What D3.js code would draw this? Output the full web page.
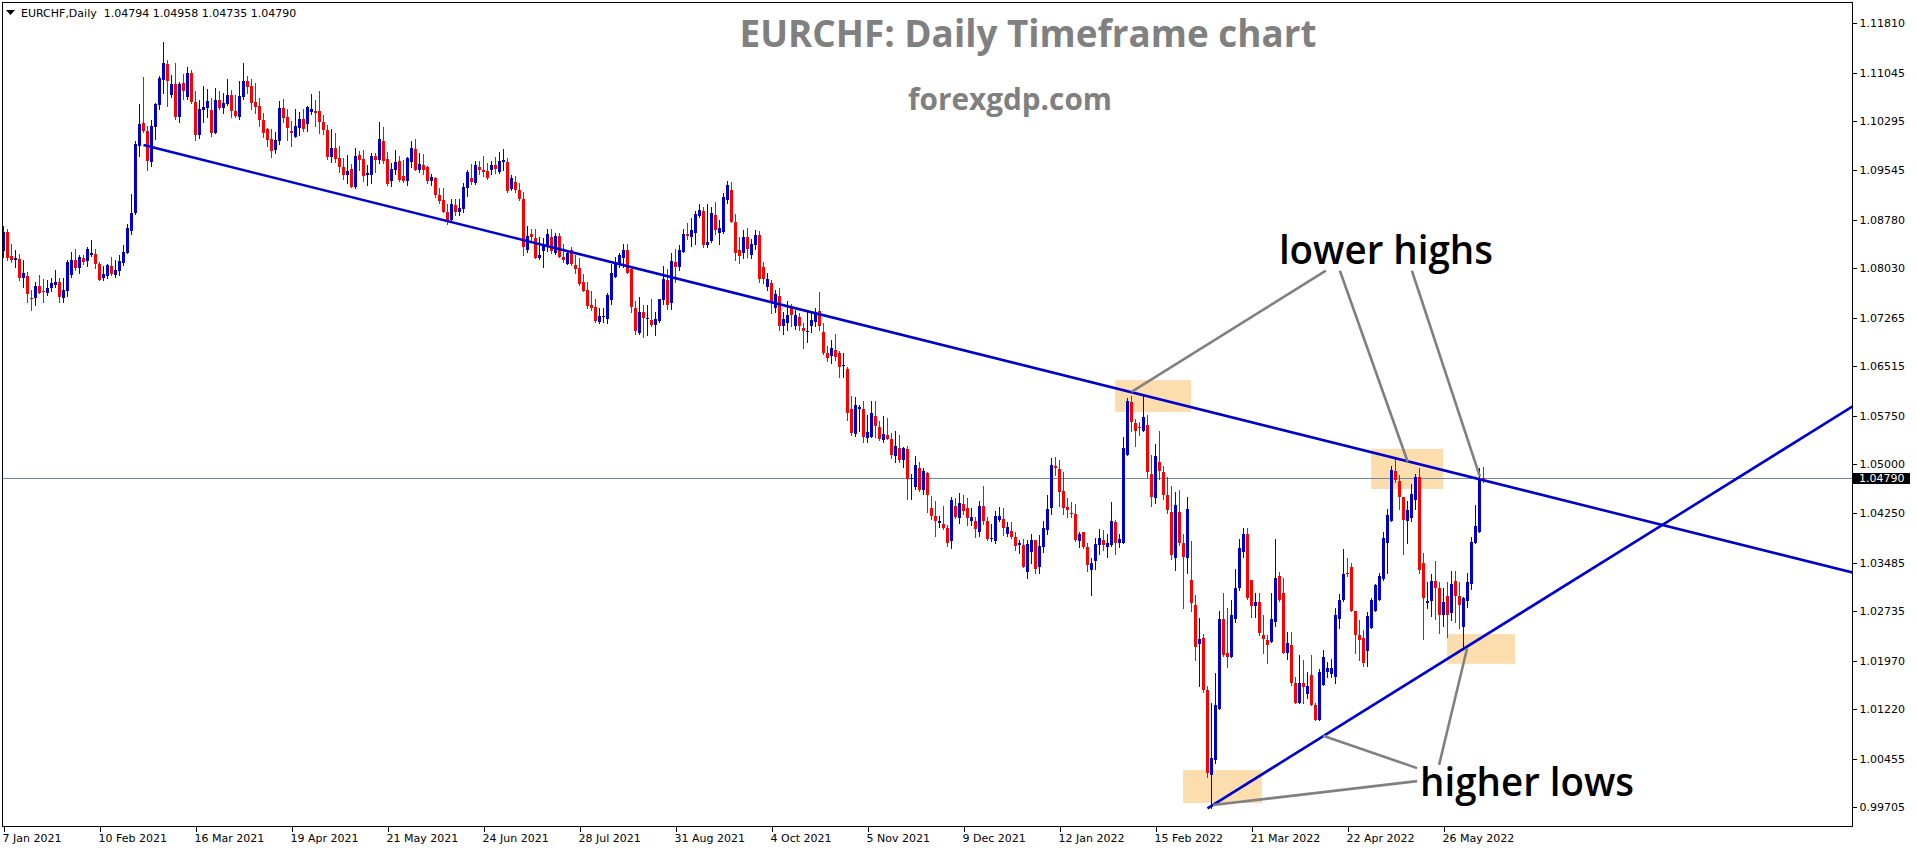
<!DOCTYPE html>
<html><head><meta charset="utf-8">
<script src="https://cdn.jsdelivr.net/npm/d3@7"></script>
<style>html,body{margin:0;padding:0;background:#fff;overflow:hidden}</style>
</head><body>
<svg id="c" width="1916" height="850"></svg>
<script>
// ---------------- DATA ----------------
const symbol = "EURCHF", timeframe = "Daily";
const open = [
1.0830,1.0859,1.0822,1.0816,1.0817,1.0787,1.0791,1.0757,1.0757,1.0775,
1.0768,1.0765,1.0772,1.0777,1.0782,1.0757,1.0768,1.0792,1.0816,1.0803,
1.0819,1.0814,1.0823,1.0825,1.0810,1.0788,1.0791,1.0807,1.0793,1.0798,
1.0811,1.0827,1.0861,1.0888,1.0992,1.1027,1.1015,1.0967,1.1021,1.1055,
1.1094,1.1118,1.1070,1.1087,1.1036,1.1089,1.1068,1.1104,1.1059,1.1009,
1.1047,1.1050,1.1047,1.1011,1.1063,1.1050,1.1056,1.1070,1.1046,1.1037,
1.1068,1.1092,1.1084,1.1059,1.1053,1.1032,1.1018,1.1002,1.0985,1.1000,
1.1050,1.1036,1.1015,1.1006,1.1020,1.1034,1.1026,1.1044,1.1046,1.1045,
1.1029,1.1016,1.0974,1.0988,1.0973,1.0959,1.0947,1.0956,1.0928,1.0977,
1.0972,1.0947,1.0947,1.0976,1.0970,1.0999,1.0972,1.0938,1.0955,1.0968,
1.0945,1.0937,1.0967,1.0987,1.0954,1.0962,1.0959,1.0938,1.0942,1.0916,
1.0908,1.0890,1.0877,1.0900,1.0890,1.0894,1.0927,1.0942,1.0934,1.0959,
1.0954,1.0953,1.0955,1.0962,1.0951,1.0967,1.0967,1.0925,1.0936,1.0923,
1.0910,1.0831,1.0856,1.0850,1.0818,1.0829,1.0839,1.0851,1.0827,1.0853,
1.0820,1.0810,1.0831,1.0808,1.0803,1.0781,1.0769,1.0746,1.0743,1.0720,
1.0728,1.0725,1.0754,1.0790,1.0808,1.0819,1.0831,1.0802,1.0741,1.0703,
1.0735,1.0725,1.0723,1.0715,1.0721,1.0754,1.0784,1.0749,1.0812,1.0805,
1.0828,1.0855,1.0851,1.0858,1.0884,1.0891,1.0839,1.0845,1.0885,1.0857,
1.0859,1.0908,1.0924,1.0875,1.0831,1.0827,1.0851,1.0823,1.0838,1.0854,
1.0805,1.0774,1.0780,1.0742,1.0760,1.0713,1.0719,1.0742,1.0714,1.0727,
1.0710,1.0704,1.0714,1.0720,1.0737,1.0705,1.0672,1.0667,1.0677,1.0672,
1.0652,1.0648,1.0586,1.0547,1.0586,1.0586,1.0540,1.0543,1.0574,1.0557,
1.0538,1.0545,1.0539,1.0513,1.0526,1.0507,1.0524,1.0477,1.0465,1.0495,
1.0461,1.0487,1.0433,1.0420,1.0409,1.0408,1.0401,1.0381,1.0436,1.0417,
1.0439,1.0433,1.0412,1.0413,1.0396,1.0436,1.0412,1.0386,1.0382,1.0414,
1.0416,1.0393,1.0397,1.0388,1.0375,1.0375,1.0334,1.0364,1.0383,1.0342,
1.0373,1.0399,1.0433,1.0497,1.0493,1.0459,1.0434,1.0425,1.0423,1.0382,
1.0395,1.0372,1.0337,1.0351,1.0375,1.0384,1.0372,1.0375,1.0411,1.0379,
1.0379,1.0514,1.0596,1.0564,1.0558,1.0552,1.0561,1.0485,1.0448,1.0504,
1.0488,1.0453,1.0426,1.0356,1.0426,1.0379,1.0356,1.0322,1.0283,1.0223,
1.0232,1.0152,1.0020,1.0043,1.0122,1.0262,1.0208,1.0203,1.0262,1.0309,
1.0365,1.0393,1.0322,1.0282,1.0287,1.0236,1.0229,1.0225,1.0256,1.0328,
1.0301,1.0209,1.0221,1.0162,1.0132,1.0162,1.0146,1.0175,1.0129,1.0105,
1.0160,1.0179,1.0177,1.0172,1.0262,1.0291,1.0332,1.0341,1.0273,1.0236,
1.0232,1.0212,1.0248,1.0274,1.0291,1.0323,1.0379,1.0413,1.0490,1.0475,
1.0449,1.0412,1.0417,1.0445,1.0480,1.0348,1.0286,1.0289,1.0320,1.0309,
1.0267,1.0297,1.0271,1.0320,1.0297,1.0249,1.0289,1.0316,1.0379,1.0395,
1.04794];
const high = [
1.0868,1.0863,1.0841,1.0831,1.0825,1.0816,1.0797,1.0770,1.0782,1.0792,
1.0786,1.0785,1.0787,1.0800,1.0787,1.0787,1.0816,1.0828,1.0833,1.0823,
1.0823,1.0835,1.0846,1.0833,1.0812,1.0807,1.0810,1.0820,1.0816,1.0824,
1.0839,1.0871,1.0917,1.0999,1.1056,1.1098,1.1022,1.1032,1.1058,1.1100,
1.1152,1.1124,1.1101,1.1120,1.1090,1.1103,1.1114,1.1109,1.1077,1.1062,
1.1084,1.1079,1.1065,1.1081,1.1076,1.1073,1.1095,1.1078,1.1070,1.1092,
1.1119,1.1099,1.1095,1.1089,1.1066,1.1043,1.1020,1.1018,1.1013,1.1061,
1.1064,1.1049,1.1030,1.1049,1.1044,1.1048,1.1053,1.1072,1.1063,1.1076,
1.1039,1.1024,1.1018,1.1012,1.0991,1.0973,1.0978,1.0964,1.0988,1.0984,
1.0986,1.0962,1.0980,1.0980,1.1029,1.1021,1.0982,1.0965,1.0985,1.0976,
1.0970,1.0974,1.0999,1.1002,1.0981,1.0979,1.0961,1.0949,1.0943,1.0927,
1.0927,1.0902,1.0910,1.0910,1.0910,1.0934,1.0955,1.0964,1.0969,1.0969,
1.0976,1.0965,1.0968,1.0974,1.0982,1.0987,1.0973,1.0947,1.0945,1.0934,
1.0920,1.0868,1.0863,1.0864,1.0851,1.0850,1.0864,1.0863,1.0858,1.0858,
1.0841,1.0831,1.0835,1.0823,1.0818,1.0794,1.0782,1.0768,1.0755,1.0742,
1.0742,1.0764,1.0810,1.0820,1.0827,1.0840,1.0840,1.0805,1.0752,1.0758,
1.0746,1.0746,1.0756,1.0735,1.0756,1.0806,1.0801,1.0827,1.0833,1.0838,
1.0864,1.0872,1.0880,1.0891,1.0902,1.0898,1.0902,1.0898,1.0905,1.0878,
1.0919,1.0937,1.0936,1.0887,1.0851,1.0862,1.0865,1.0848,1.0862,1.0860,
1.0812,1.0795,1.0785,1.0769,1.0772,1.0735,1.0752,1.0748,1.0739,1.0733,
1.0718,1.0738,1.0733,1.0742,1.0766,1.0718,1.0683,1.0692,1.0702,1.0675,
1.0672,1.0650,1.0605,1.0604,1.0592,1.0598,1.0576,1.0598,1.0598,1.0567,
1.0575,1.0572,1.0549,1.0552,1.0545,1.0527,1.0529,1.0485,1.0513,1.0503,
1.0495,1.0489,1.0451,1.0444,1.0420,1.0436,1.0407,1.0450,1.0448,1.0456,
1.0453,1.0448,1.0432,1.0419,1.0443,1.0467,1.0419,1.0408,1.0428,1.0434,
1.0432,1.0411,1.0411,1.0396,1.0383,1.0385,1.0383,1.0392,1.0383,1.0391,
1.0413,1.0453,1.0510,1.0512,1.0507,1.0489,1.0448,1.0442,1.0439,1.0395,
1.0395,1.0379,1.0356,1.0386,1.0400,1.0399,1.0393,1.0442,1.0414,1.0393,
1.0542,1.0602,1.0606,1.0570,1.0566,1.0608,1.0576,1.0514,1.0531,1.0551,
1.0497,1.0481,1.0467,1.0458,1.0460,1.0393,1.0449,1.0381,1.0298,1.0263,
1.0238,1.0158,1.0131,1.0178,1.0273,1.0302,1.0279,1.0290,1.0339,1.0385,
1.0401,1.0401,1.0322,1.0301,1.0301,1.0268,1.0237,1.0302,1.0385,1.0334,
1.0325,1.0241,1.0241,1.0172,1.0205,1.0198,1.0179,1.0206,1.0131,1.0184,
1.0213,1.0195,1.0200,1.0278,1.0300,1.0370,1.0355,1.0348,1.0274,1.0259,
1.0244,1.0272,1.0294,1.0316,1.0333,1.0395,1.0431,1.0498,1.0509,1.0484,
1.0450,1.0443,1.0470,1.0485,1.0495,1.0363,1.0318,1.0330,1.0351,1.0318,
1.0309,1.0318,1.0336,1.0336,1.0318,1.0296,1.0333,1.0388,1.0437,1.0494,
1.04958];
const low = [
1.0820,1.0816,1.0813,1.0805,1.0784,1.0774,1.0750,1.0738,1.0746,1.0764,
1.0751,1.0761,1.0768,1.0774,1.0750,1.0751,1.0760,1.0790,1.0800,1.0796,
1.0810,1.0807,1.0822,1.0803,1.0785,1.0784,1.0787,1.0792,1.0790,1.0792,
1.0808,1.0827,1.0855,1.0887,1.0976,1.1013,1.0955,1.0960,1.1003,1.1049,
1.1074,1.1053,1.1068,1.1034,1.1029,1.1064,1.1064,1.1058,1.1001,1.1004,
1.1029,1.1037,1.1007,1.1011,1.1048,1.1042,1.1055,1.1037,1.1037,1.1033,
1.1064,1.1073,1.1049,1.1043,1.1023,1.1006,1.0992,1.0975,1.0981,1.0995,
1.1029,1.1001,1.0992,1.1006,1.1008,1.1014,1.1015,1.1041,1.1023,1.1011,
1.1010,1.0972,1.0967,1.0967,1.0951,1.0941,1.0935,1.0928,1.0926,1.0955,
1.0938,1.0932,1.0935,1.0952,1.0966,1.0965,1.0931,1.0930,1.0948,1.0937,
1.0936,1.0932,1.0959,1.0955,1.0951,1.0948,1.0934,1.0932,1.0913,1.0903,
1.0890,1.0871,1.0875,1.0885,1.0885,1.0889,1.0914,1.0933,1.0933,1.0949,
1.0945,1.0941,1.0948,1.0950,1.0950,1.0954,1.0921,1.0923,1.0921,1.0908,
1.0823,1.0828,1.0846,1.0818,1.0817,1.0804,1.0829,1.0826,1.0825,1.0820,
1.0813,1.0809,1.0808,1.0795,1.0777,1.0767,1.0742,1.0739,1.0720,1.0719,
1.0720,1.0718,1.0748,1.0790,1.0804,1.0805,1.0795,1.0735,1.0701,1.0701,
1.0696,1.0699,1.0714,1.0700,1.0720,1.0748,1.0740,1.0740,1.0782,1.0800,
1.0828,1.0848,1.0837,1.0841,1.0882,1.0835,1.0836,1.0844,1.0856,1.0840,
1.0858,1.0903,1.0874,1.0815,1.0811,1.0819,1.0820,1.0818,1.0832,1.0782,
1.0780,1.0770,1.0733,1.0736,1.0708,1.0701,1.0708,1.0713,1.0709,1.0708,
1.0679,1.0689,1.0704,1.0713,1.0708,1.0670,1.0659,1.0657,1.0661,1.0635,
1.0635,1.0569,1.0545,1.0544,1.0552,1.0535,1.0534,1.0542,1.0542,1.0537,
1.0535,1.0539,1.0510,1.0504,1.0503,1.0496,1.0447,1.0447,1.0462,1.0459,
1.0454,1.0427,1.0415,1.0389,1.0404,1.0400,1.0374,1.0371,1.0417,1.0409,
1.0423,1.0407,1.0406,1.0388,1.0389,1.0408,1.0383,1.0381,1.0378,1.0412,
1.0391,1.0390,1.0387,1.0368,1.0363,1.0341,1.0325,1.0347,1.0333,1.0333,
1.0365,1.0392,1.0423,1.0484,1.0436,1.0423,1.0418,1.0418,1.0381,1.0373,
1.0371,1.0335,1.0298,1.0338,1.0362,1.0368,1.0357,1.0374,1.0362,1.0373,
1.0379,1.0514,1.0552,1.0529,1.0546,1.0551,1.0481,1.0436,1.0441,1.0478,
1.0446,1.0425,1.0354,1.0337,1.0375,1.0279,1.0332,1.0274,1.0198,1.0158,
1.0149,1.0018,0.9969,1.0039,1.0122,1.0204,1.0187,1.0203,1.0257,1.0306,
1.0357,1.0292,1.0264,1.0264,1.0237,1.0208,1.0194,1.0225,1.0251,1.0289,
1.0209,1.0200,1.0159,1.0131,1.0132,1.0131,1.0139,1.0128,1.0105,1.0105,
1.0160,1.0172,1.0172,1.0163,1.0247,1.0289,1.0328,1.0274,1.0208,1.0198,
1.0188,1.0188,1.0248,1.0274,1.0291,1.0322,1.0332,1.0413,1.0473,1.0431,
1.0362,1.0379,1.0412,1.0431,1.0333,1.0230,1.0279,1.0266,1.0261,1.0240,
1.0251,1.0233,1.0260,1.0256,1.0248,1.0216,1.0280,1.0307,1.0378,1.0395,
1.04735];
const close = [
1.0859,1.0819,1.0816,1.0818,1.0787,1.0795,1.0763,1.0755,1.0775,1.0765,
1.0766,1.0773,1.0780,1.0782,1.0759,1.0769,1.0812,1.0816,1.0803,1.0820,
1.0812,1.0833,1.0827,1.0810,1.0785,1.0794,1.0808,1.0794,1.0800,1.0814,
1.0828,1.0865,1.0888,1.0995,1.1026,1.1014,1.0969,1.1022,1.1056,1.1097,
1.1120,1.1092,1.1087,1.1036,1.1088,1.1077,1.1104,1.1060,1.1009,1.1049,
1.1052,1.1061,1.1012,1.1063,1.1050,1.1058,1.1070,1.1045,1.1038,1.1069,
1.1092,1.1083,1.1058,1.1052,1.1032,1.1011,1.1001,1.0984,1.1001,1.1050,
1.1035,1.1019,1.1011,1.1022,1.1034,1.1018,1.1052,1.1049,1.1043,1.1028,
1.1016,1.0975,1.0988,1.0972,1.0959,1.0947,1.0953,1.0929,1.0976,1.0970,
1.0946,1.0950,1.0976,1.0970,1.1002,1.0969,1.0933,1.0956,1.0967,1.0939,
1.0938,1.0973,1.0988,1.0955,1.0964,1.0955,1.0938,1.0943,1.0916,1.0907,
1.0890,1.0876,1.0902,1.0890,1.0896,1.0928,1.0951,1.0936,1.0963,1.0954,
1.0951,1.0942,1.0963,1.0956,1.0968,1.0970,1.0922,1.0942,1.0924,1.0910,
1.0836,1.0852,1.0851,1.0818,1.0823,1.0840,1.0855,1.0830,1.0852,1.0820,
1.0816,1.0826,1.0810,1.0802,1.0778,1.0768,1.0745,1.0742,1.0721,1.0729,
1.0729,1.0762,1.0795,1.0812,1.0823,1.0831,1.0796,1.0743,1.0706,1.0736,
1.0726,1.0726,1.0715,1.0725,1.0755,1.0786,1.0746,1.0814,1.0805,1.0831,
1.0856,1.0853,1.0862,1.0887,1.0893,1.0839,1.0843,1.0888,1.0862,1.0865,
1.0913,1.0932,1.0875,1.0827,1.0821,1.0851,1.0833,1.0840,1.0854,1.0786,
1.0786,1.0786,1.0749,1.0763,1.0714,1.0724,1.0731,1.0731,1.0731,1.0713,
1.0706,1.0706,1.0723,1.0736,1.0714,1.0672,1.0665,1.0679,1.0666,1.0650,
1.0653,1.0580,1.0549,1.0592,1.0589,1.0543,1.0550,1.0579,1.0559,1.0539,
1.0547,1.0539,1.0515,1.0528,1.0507,1.0526,1.0478,1.0479,1.0499,1.0460,
1.0490,1.0453,1.0420,1.0413,1.0412,1.0401,1.0379,1.0445,1.0418,1.0441,
1.0428,1.0417,1.0419,1.0400,1.0436,1.0413,1.0385,1.0387,1.0420,1.0420,
1.0401,1.0403,1.0388,1.0374,1.0378,1.0342,1.0377,1.0383,1.0339,1.0374,
1.0402,1.0431,1.0499,1.0495,1.0458,1.0433,1.0430,1.0424,1.0383,1.0393,
1.0372,1.0344,1.0348,1.0377,1.0386,1.0375,1.0378,1.0413,1.0378,1.0385,
1.0525,1.0598,1.0566,1.0552,1.0557,1.0573,1.0489,1.0450,1.0513,1.0490,
1.0453,1.0429,1.0360,1.0437,1.0379,1.0357,1.0431,1.0286,1.0218,1.0230,
1.0152,1.0023,1.0047,1.0128,1.0262,1.0205,1.0203,1.0267,1.0309,1.0371,
1.0393,1.0293,1.0282,1.0287,1.0239,1.0231,1.0221,1.0262,1.0324,1.0291,
1.0209,1.0224,1.0162,1.0132,1.0162,1.0157,1.0158,1.0129,1.0105,1.0180,
1.0202,1.0185,1.0185,1.0268,1.0291,1.0330,1.0330,1.0274,1.0236,1.0229,
1.0193,1.0266,1.0291,1.0314,1.0328,1.0386,1.0422,1.0491,1.0476,1.0450,
1.0414,1.0429,1.0454,1.0480,1.0337,1.0294,1.0289,1.0320,1.0309,1.0267,
1.0287,1.0267,1.0315,1.0297,1.0283,1.0293,1.0318,1.0380,1.0405,1.0478,
1.04790];

// x-axis tick labels (one every 24 bars) and price-axis tick values
const dateTickLabels = ["7 Jan 2021","10 Feb 2021","16 Mar 2021","19 Apr 2021","21 May 2021","24 Jun 2021",
  "28 Jul 2021","31 Aug 2021","4 Oct 2021","5 Nov 2021","9 Dec 2021","12 Jan 2022","15 Feb 2022",
  "21 Mar 2022","22 Apr 2022","26 May 2022"];
const dateTickStep = 24;
const priceTicks = [1.11810,1.11045,1.10295,1.09545,1.08780,1.08030,1.07265,1.06515,1.05750,
  1.05000,1.04250,1.03485,1.02735,1.01970,1.01220,1.00455,0.99705];

// annotations, in (bar index, price) coordinates
const trendDown = [{i:35, p:1.0993}, {i:369, p:1.0477}];
const trendUp   = [{i:301, p:0.9969}, {i:360, p:1.0196}];
const zones = [
  {i0:277.9, i1:296.9, p0:1.0630, p1:1.0581},
  {i0:341.9, i1:359.9, p0:1.0524, p1:1.0462},
  {i0:360.9, i1:377.9, p0:1.0238, p1:1.0192},
  {i0:294.9, i1:314.6, p0:1.0028, p1:0.9977}
];
const pointers = [
  [{i:330.6,p:1.0799},{i:282.0,p:1.0612}],
  [{i:334.1,p:1.0799},{i:351.05,p:1.0504}],
  [{i:352.1,p:1.0799},{i:369.1,p:1.0481}],
  [{i:353.4,p:1.0011},{i:302.4,p:0.9974}],
  [{i:353.4,p:1.0031},{i:329.9,p:1.0081}],
  [{i:358.9,p:1.0036},{i:365.9,p:1.0216}]
];
const labels = [
  {text:"lower highs", i:345.6, p:1.0831, w:214},
  {text:"higher lows", i:380.9, p:1.0010, w:214}
];
const titleText = "EURCHF: Daily Timeframe chart";
const siteText = "forexgdp.com";

// ---------------- CHART ----------------
const n = close.length;
const plot = {l:2, t:2, r:1852, b:826};
const x = d3.scaleLinear().domain([0, n-1]).range([3.5, 3.5 + 4*(n-1)]);
const y = d3.scaleLinear().domain([1.1217, 0.99046]).range([0, 850]);
const BULL = "#0000cd", BEAR = "#ff0000";

const svg = d3.select("#c");
svg.append("rect").attr("width",1916).attr("height",850).attr("fill","#fff");
svg.append("clipPath").attr("id","clip").append("rect")
  .attr("x",plot.l).attr("y",plot.t).attr("width",plot.r-plot.l).attr("height",plot.b-plot.t);
const g = svg.append("g").attr("clip-path","url(#clip)");

// zones
g.selectAll("rect.zone").data(zones).join("rect").attr("class","zone")
  .attr("x",d=>x(d.i0)).attr("y",d=>y(d.p0))
  .attr("width",d=>x(d.i1)-x(d.i0)).attr("height",d=>y(d.p1)-y(d.p0))
  .attr("fill","#fcdeae");

// last price line
const lastClose = close[n-1];
g.append("line").attr("x1",plot.l).attr("x2",plot.r)
  .attr("y1",Math.round(y(lastClose))+0.5).attr("y2",Math.round(y(lastClose))+0.5)
  .attr("stroke","#778899").attr("stroke-width",1).attr("shape-rendering","crispEdges");

// candles
const idx = d3.range(n);
const cg = g.append("g").attr("shape-rendering","crispEdges");
const col = i => close[i] >= open[i] ? BULL : BEAR;
cg.selectAll("line.wick").data(idx).join("line").attr("class","wick")
  .attr("x1",i=>x(i)).attr("x2",i=>x(i))
  .attr("y1",i=>Math.round(y(high[i]))).attr("y2",i=>Math.round(y(low[i]))+1)
  .attr("stroke",col).attr("stroke-width",1);
cg.selectAll("rect.body").data(idx).join("rect").attr("class","body")
  .attr("x",i=>x(i)-1.5).attr("width",3)
  .attr("y",i=>Math.round(y(Math.max(open[i],close[i]))))
  .attr("height",i=>Math.max(1, Math.round(y(Math.min(open[i],close[i]))) - Math.round(y(Math.max(open[i],close[i])))))
  .attr("fill",col);

// trend lines (rays to the right edge)
const iEdge = x.invert(plot.r + 2);
function ray(a,b){ const s=(b.p-a.p)/(b.i-a.i); return [a,{i:iEdge,p:a.p+s*(iEdge-a.i)}]; }
const lineGen = d3.line().x(d=>x(d.i)).y(d=>y(d.p));
g.selectAll("path.trend").data([ray(trendDown[0],trendDown[1]), ray(trendUp[0],trendUp[1])]).join("path")
  .attr("class","trend").attr("d",lineGen).attr("fill","none").attr("stroke","#0000cd").attr("stroke-width",2.6);

// pointer lines
g.selectAll("path.ptr").data(pointers).join("path").attr("class","ptr")
  .attr("d",lineGen).attr("fill","none").attr("stroke","#808080").attr("stroke-width",2.6);

// labels
g.selectAll("text.lab").data(labels).join("text").attr("class","lab")
  .attr("x",d=>x(d.i)).attr("y",d=>y(d.p)).attr("dy","0.36em")
  .attr("text-anchor","middle").attr("font-family","'Open Sans', sans-serif")
  .attr("font-weight",600).attr("font-size",40).attr("fill","#000")
  .attr("textLength",d=>d.w).attr("lengthAdjust","spacingAndGlyphs").text(d=>d.text);

// title + site
svg.append("text").attr("x",1028).attr("y",47).attr("text-anchor","middle")
  .attr("font-family","'Open Sans', sans-serif").attr("font-weight",700).attr("font-size",38)
  .attr("fill","#808080").attr("textLength",577).attr("lengthAdjust","spacingAndGlyphs").text(titleText);
svg.append("text").attr("x",1010).attr("y",110).attr("text-anchor","middle")
  .attr("font-family","'Open Sans', sans-serif").attr("font-weight",700).attr("font-size",30)
  .attr("fill","#808080").attr("textLength",204).attr("lengthAdjust","spacingAndGlyphs").text(siteText);

// frame
svg.append("rect").attr("x",plot.l+0.5).attr("y",plot.t+0.5)
  .attr("width",plot.r-plot.l).attr("height",plot.b-plot.t)
  .attr("fill","none").attr("stroke","#000").attr("stroke-width",1).attr("shape-rendering","crispEdges");

// right price axis
const yAxis = d3.axisRight(y).tickValues(priceTicks).tickSize(4).tickPadding(3).tickFormat(d3.format(".5f"));
const ya = svg.append("g").attr("transform",`translate(${plot.r+0.5},0)`).call(yAxis);
ya.select(".domain").remove();
ya.selectAll("text").attr("font-family","'DejaVu Sans', sans-serif").attr("font-size",11).attr("fill","#000");
ya.selectAll("line").attr("stroke","#000").attr("shape-rendering","crispEdges");

// last price tag
const fmt5 = d3.format(".5f");
const ty = y(lastClose);
svg.append("rect").attr("x",plot.r+1).attr("y",Math.round(ty)-5).attr("width",57).attr("height",11).attr("fill","#000");
svg.append("text").attr("x",plot.r+7).attr("y",ty).attr("dy","0.34em")
  .attr("font-family","'DejaVu Sans', sans-serif").attr("font-size",11).attr("fill","#fff").text(fmt5(lastClose));

// bottom date axis
const tickIdx = dateTickLabels.map((_,k)=>k*dateTickStep);
const xAxis = d3.axisBottom(x).tickValues(tickIdx).tickSize(5).tickPadding(3)
  .tickFormat((d,k)=>dateTickLabels[k]);
const xa = svg.append("g").attr("transform",`translate(0,${plot.b+0.5})`).call(xAxis);
xa.select(".domain").remove();
xa.selectAll("text").attr("text-anchor","start").attr("dx",-1.5)
  .attr("font-family","'DejaVu Sans', sans-serif").attr("font-size",11).attr("fill","#000");
xa.selectAll("line").attr("stroke","#000").attr("shape-rendering","crispEdges");

// header
svg.append("path").attr("d","M6,10 L15,10 L10.5,15 Z").attr("fill","#000");
svg.append("text").attr("x",21).attr("y",16.5).attr("font-family","'DejaVu Sans', sans-serif")
  .attr("font-size",11).attr("fill","#000").attr("xml:space","preserve")
  .text(`${symbol},${timeframe}  ${fmt5(open[n-1])} ${fmt5(high[n-1])} ${fmt5(low[n-1])} ${fmt5(close[n-1])}`);
</script>
</body></html>
